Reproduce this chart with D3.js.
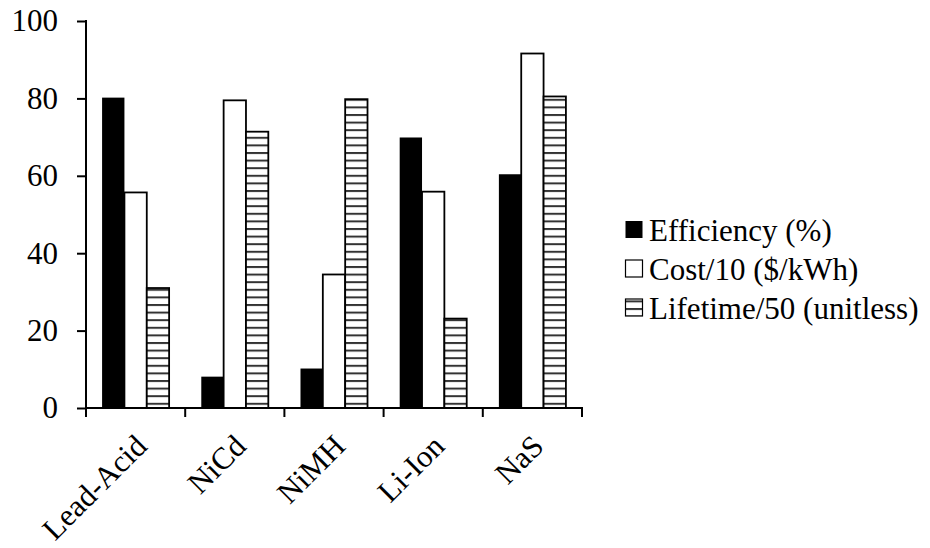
<!DOCTYPE html>
<html>
<head>
<meta charset="utf-8">
<script src="https://cdn.jsdelivr.net/npm/d3@7"></script>
<style>
  body { margin: 0; background: #fff; }
  svg { display: block; }
</style>
</head>
<body>
<svg id="chart" width="930" height="548"></svg>
<script>
// battery technologies and the three measures
const categories = ["Lead-Acid", "NiCd", "NiMH", "Li-Ion", "NaS"];
const seriesNames = ["Efficiency (%)", "Cost/10 ($/kWh)", "Lifetime/50 (unitless)"];
const efficiency = [80.2, 8.1, 10.2, 69.9, 60.4];
const cost = [55.7, 79.5, 34.5, 55.9, 91.6];
const lifetime = [31.0, 71.4, 79.8, 23.1, 80.5];
const yTicks = [0, 20, 40, 60, 80, 100];

const plot = { left: 86, right: 582, top: 21, bottom: 408 };
const FONT = "31px";
const FAMILY = "'Liberation Serif'";

const svg = d3.select("#chart");

// horizontal hatching for the lifetime series
const defs = svg.append("defs");
const pat = defs.append("pattern")
  .attr("id", "hatch").attr("patternUnits", "userSpaceOnUse")
  .attr("width", 8).attr("height", 7.6);
pat.append("rect").attr("width", 8).attr("height", 7.6).attr("fill", "#fff");
pat.append("rect").attr("y", 0).attr("width", 8).attr("height", 2).attr("fill", "#333");

const fills = ["#000", "#fff", "url(#hatch)"];

const x = d3.scaleBand().domain(categories).range([plot.left, plot.right]).padding(0);
const xs = d3.scaleBand().domain(d3.range(3)).range([0, x.bandwidth()])
  .paddingInner(0).paddingOuter(0.72);
const y = d3.scaleLinear().domain([0, 100]).range([plot.bottom, plot.top]);

const rows = categories.map((c, i) => ({ cat: c, vals: [efficiency[i], cost[i], lifetime[i]] }));

// bars
const groups = svg.append("g").selectAll("g").data(rows).join("g")
  .attr("transform", d => `translate(${x(d.cat)},0)`);

groups.selectAll("rect").data(d => d.vals.map((v, k) => ({ v, k }))).join("rect")
  .attr("x", d => xs(d.k))
  .attr("y", d => y(d.v))
  .attr("width", xs.bandwidth())
  .attr("height", d => y(0) - y(d.v))
  .attr("fill", d => fills[d.k])
  .attr("stroke", "#000")
  .attr("stroke-width", d => d.k === 0 ? 0 : 1.8);

// y axis
const yAxis = svg.append("g")
  .attr("transform", `translate(${plot.left},0)`)
  .call(d3.axisLeft(y).tickValues(yTicks).tickSize(9).tickSizeOuter(0).tickPadding(19));
yAxis.attr("font-family", null).attr("font-size", null);
yAxis.select(".domain").attr("stroke", "#000").attr("stroke-width", 2)
  .attr("d", `M0,${plot.top - 1}V${plot.bottom + 1}`);
yAxis.selectAll(".tick line").attr("stroke", "#000").attr("stroke-width", 2);
yAxis.selectAll(".tick text")
  .style("font-family", FAMILY).style("font-size", FONT).attr("fill", "#000");

// x axis: ticks at band boundaries
const bounds = categories.map(c => x(c)).concat([plot.right]);
svg.append("line")
  .attr("x1", plot.left - 1).attr("x2", plot.right + 1)
  .attr("y1", plot.bottom).attr("y2", plot.bottom)
  .attr("stroke", "#000").attr("stroke-width", 2);
svg.append("g").selectAll("line").data(bounds).join("line")
  .attr("x1", d => d).attr("x2", d => d)
  .attr("y1", plot.bottom).attr("y2", plot.bottom + 9)
  .attr("stroke", "#000").attr("stroke-width", 2);

svg.append("g").selectAll("text").data(categories).join("text")
  .attr("transform", d => `translate(${x(d) + x.bandwidth() / 2 + 13},${plot.bottom + 40}) rotate(-45)`)
  .attr("text-anchor", "end")
  .style("font-family", FAMILY).style("font-size", FONT)
  .text(d => d);

// legend
const legend = svg.append("g").selectAll("g").data(seriesNames).join("g")
  .attr("transform", (d, i) => `translate(625,${230 + i * 39})`);
legend.append("rect")
  .attr("x", 0.5).attr("y", -9).attr("width", 17).attr("height", 17)
  .attr("fill", (d, i) => fills[i])
  .attr("stroke", "#000").attr("stroke-width", (d, i) => i === 0 ? 0 : 1.2);
legend.append("text")
  .attr("x", 24).attr("dy", "0.35em")
  .style("font-family", FAMILY).style("font-size", FONT)
  .text(d => d);
</script>
</body>
</html>
